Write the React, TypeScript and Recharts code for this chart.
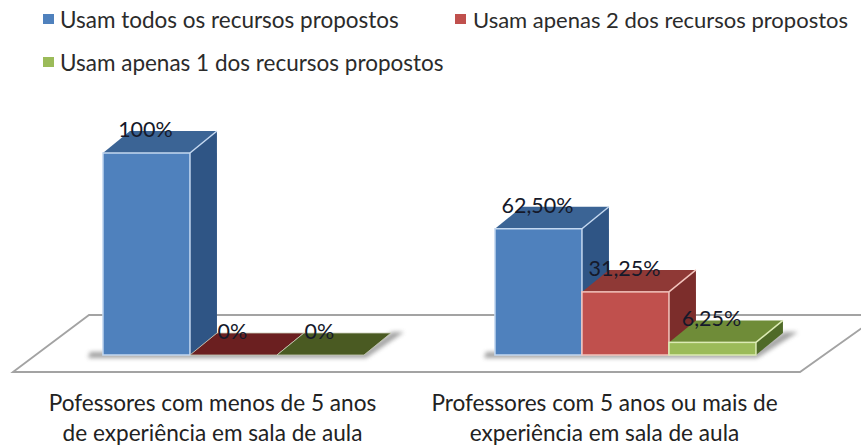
import React from "react";
import { BarChart, Bar, XAxis, YAxis, Legend, LabelList, Customized } from "recharts";

const categories = [
  "Pofessores com menos de 5 anos|de experiência em sala de aula",
  "Professores com 5 anos ou mais de|experiência em sala de aula",
];
const todos = [100, 62.5];
const dois = [0, 31.25];
const um = [0, 6.25];
const todosLabels = ["100%", "62,50%"];
const doisLabels = ["0%", "31,25%"];
const umLabels = ["0%", "6,25%"];
const seriesNames = [
  "Usam todos os recursos propostos",
  "Usam apenas 2 dos recursos propostos",
  "Usam apenas 1 dos recursos propostos",
];

const rows = categories.map((c, i) => ({
  name: c,
  todos: todos[i],
  dois: dois[i],
  um: um[i],
}));

const FONT = "Lato, Carlito, sans-serif";
const DX = 27;
const DY = 22;

const palettes = {
  blue: { front: "#4f81bd", top: "#3b6495", side: "#2f5585", edge: "#c4d8f0", zero: "#3b6495" },
  red: { front: "#c0504d", top: "#8f3936", side: "#7c2d2b", edge: "#f3c4bd", zero: "#6b1f20" },
  green: { front: "#9bbb59", top: "#6f8c38", side: "#4f6a28", edge: "#dcebb4", zero: "#4a5a22" },
};

const bar3d = (p: typeof palettes.blue) => (props: any) => {
  const { x, y, width, height } = props;
  const zero = height < 1;
  const r = x + width;
  const b = y + height;
  return (
    <g>
      {!zero && (
        <polygon
          points={`${r},${y} ${r + DX},${y - DY} ${r + DX},${b - DY} ${r},${b}`}
          fill={p.side}
        />
      )}
      <polygon
        points={`${x},${y} ${x + DX},${y - DY} ${r + DX},${y - DY} ${r},${y}`}
        fill={zero ? p.zero : p.top}
        stroke={zero ? "#c9cdb8" : "none"}
        strokeWidth={zero ? 0.8 : 0}
      />
      {!zero && (
        <>
          <line x1={r} y1={y} x2={r + DX} y2={y - DY} stroke={p.edge} strokeWidth={1.5} />
          <rect x={x} y={y} width={width} height={height} fill={p.front} stroke={p.edge} strokeWidth={1.5} />
        </>
      )}
    </g>
  );
};

const Floor = () => (
  <g>
    <defs>
      <filter id="soft" x="-20%" y="-50%" width="140%" height="200%">
        <feGaussianBlur stdDeviation="2" />
      </filter>
    </defs>
    <polygon
      points="13,372 89,315 880,315 800,372"
      fill="#ffffff"
      stroke="#a3a3a3"
      strokeWidth={1.8}
    />
    <polygon points="88,358 366,358 404,332 392,332 364,352 90,352" fill="#8c8c8c" opacity={0.8} filter="url(#soft)" />
    <polygon points="484,358 757,358 798,332 784,332 755,352 486,352" fill="#8c8c8c" opacity={0.8} filter="url(#soft)" />
  </g>
);

const AxisTick = (props: any) => {
  const { x, y, payload } = props;
  const lines = String(payload.value).split("|");
  return (
    <g>
      {lines.map((l, i) => (
        <text
          key={i}
          x={x - 21}
          y={y + 39 + i * 30}
          textAnchor="middle"
          dominantBaseline="central"
          fontFamily={FONT}
          fontSize={22.6}
          fill="#222222"
        >
          {l}
        </text>
      ))}
    </g>
  );
};

const makeLabel = (labels: string[]) => (props: any) => {
  const { x, y, width, index } = props;
  return (
    <text
      x={x + width / 2 - 1}
      y={y - 24}
      textAnchor="middle"
      dominantBaseline="central"
      fontFamily={FONT}
      fontSize={21.5}
      fill="#15192a"
    >
      {labels[index]}
    </text>
  );
};

const legendSlots = [
  { left: 43, top: 4 },
  { left: 455, top: 4 },
  { left: 43, top: 47 },
];

const LegendBox = (props: any) => (
  <div style={{ position: "relative", height: 0, width: 0 }}>
    {(props.payload || []).map((e: any) => {
      const i = seriesNames.indexOf(e.value);
      return (
        <div
          key={i}
          style={{
            position: "absolute",
            left: legendSlots[i].left,
            top: legendSlots[i].top,
            display: "flex",
            alignItems: "center",
            whiteSpace: "nowrap",
            height: 30,
            fontFamily: FONT,
            fontSize: i === 1 ? 22 : 22.5,
            color: "#2b2b2b",
          }}
        >
          <span style={{ width: 11, height: 10, background: e.color, marginRight: i === 1 ? 7 : 6 }} />
          {e.value}
        </div>
      );
    })}
  </div>
);

export default function App() {
  return (
    <div style={{ position: "absolute", left: 0, top: 0, width: 861, height: 447, overflow: "hidden", background: "#fff" }}>
      <BarChart
        width={861}
        height={447}
        data={rows}
        margin={{ top: 153, right: 39.5, bottom: 0, left: 37.5 }}
        barGap={0}
        barCategoryGap="16.7%"
      >
        <Customized component={Floor} />
        <XAxis
          dataKey="name"
          height={92}
          axisLine={false}
          tickLine={false}
          interval={0}
          tick={<AxisTick />}
        />
        <YAxis hide width={0} domain={[0, 100]} />
        <Legend
          verticalAlign="top"
          align="left"
          height={0}
          wrapperStyle={{ left: 0, top: 0, width: 0, height: 0 }}
          content={<LegendBox />}
        />
        <Bar dataKey="todos" name={seriesNames[0]} fill={palettes.blue.front} shape={bar3d(palettes.blue)} isAnimationActive={false}>
          <LabelList dataKey="todos" content={makeLabel(todosLabels)} />
        </Bar>
        <Bar dataKey="dois" name={seriesNames[1]} fill={palettes.red.front} shape={bar3d(palettes.red)} isAnimationActive={false}>
          <LabelList dataKey="dois" content={makeLabel(doisLabels)} />
        </Bar>
        <Bar dataKey="um" name={seriesNames[2]} fill={palettes.green.front} shape={bar3d(palettes.green)} isAnimationActive={false}>
          <LabelList dataKey="um" content={makeLabel(umLabels)} />
        </Bar>
      </BarChart>
    </div>
  );
}
